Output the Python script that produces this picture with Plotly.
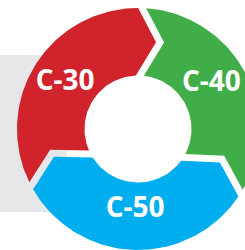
import numpy as np
import plotly.graph_objects as go

# ---- data ----
categories = ["C-30", "C-40", "C-50"]
values = [1, 1, 1]
colors = ["#d0232b", "#41ad49", "#00aeef"]

# ---- geometry / style (pixels, 1 data unit = 1 px) ----
START_DEG = 208.0          # where the first segment begins, going clockwise
R_OUT, R_IN = 121.0, 53.5
R_MID = (R_OUT + R_IN) / 2
TIP = 19.0                 # chevron tip offset
GAP = 4.0                  # half of the white gap
TIP_DIR = [1, 1, -1]       # direction of chevron at each boundary (+1 = clockwise)
LABEL_R = [86.0, 86.0, 81.0]
LABEL_DEG_SHIFT = [0.0, 3.5, 0.0]

total = float(sum(values))
spans = [360.0 * v / total for v in values]
bounds = [START_DEG]
for s in spans:
    bounds.append(bounds[-1] - s)


def u(th):
    return np.array([np.cos(th), np.sin(th)])


def tcw(th):
    return np.array([np.sin(th), -np.cos(th)])


fig = go.Figure()

fig.add_shape(type="rect", x0=-160, x1=-71, y0=-83, y1=74,
              xref="x", yref="y", fillcolor="#e6e7e8", line_width=0, layer="below")

n = len(values)
for i in range(n):
    A = np.radians(bounds[i])
    B = np.radians(bounds[i + 1])
    dA = TIP_DIR[i % n]
    dB = TIP_DIR[(i + 1) % n]
    pts = []
    for th in np.linspace(A - GAP / R_OUT, B + GAP / R_OUT, 80):
        pts.append(R_OUT * u(th))
    pts.append(R_MID * u(B) + (dB * TIP - GAP) * tcw(B))
    for th in np.linspace(B + GAP / R_IN, A - GAP / R_IN, 60):
        pts.append(R_IN * u(th))
    pts.append(R_MID * u(A) + (dA * TIP + GAP) * tcw(A))
    pts.append(pts[0])
    pts = np.array(pts)
    fig.add_trace(go.Scatter(x=pts[:, 0], y=pts[:, 1], mode="lines", fill="toself",
                             fillcolor=colors[i], line=dict(width=0, color=colors[i]),
                             hoverinfo="skip", name=categories[i]))

mids = [np.radians((bounds[i] + bounds[i + 1]) / 2 + LABEL_DEG_SHIFT[i]) for i in range(n)]
fig.add_trace(go.Scatter(
    x=[LABEL_R[i] * np.cos(m) for i, m in enumerate(mids)],
    y=[LABEL_R[i] * np.sin(m) for i, m in enumerate(mids)],
    mode="text", text=categories,
    textfont=dict(family="Open Sans", size=28, color="white", weight="bold"),
    textposition="middle center", hoverinfo="skip"))

fig.update_layout(
    width=245, height=250, margin=dict(l=0, r=0, t=0, b=0),
    paper_bgcolor="white", plot_bgcolor="white", showlegend=False,
    xaxis=dict(range=[-138, 107], visible=False, fixedrange=True),
    yaxis=dict(range=[-121, 129], visible=False, fixedrange=True),
)

fig.write_html("out.html", config={"displayModeBar": False},
               post_script="document.body.style.margin='0';")
